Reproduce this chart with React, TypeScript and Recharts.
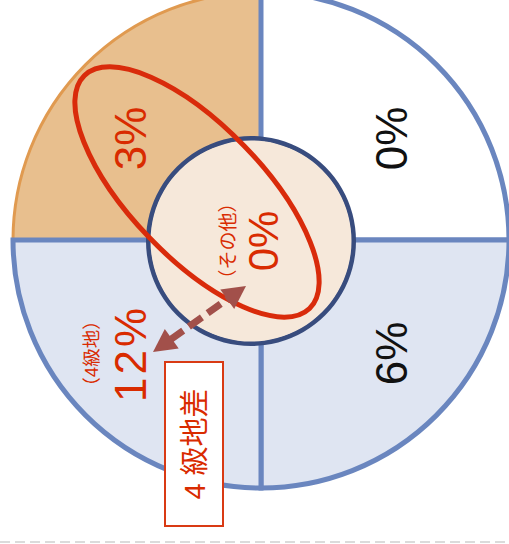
import React from "react"
import { PieChart, Pie, Cell } from "recharts"

// quadrants clockwise from the top-left one; equal weights, the label is the share
const quadrantNames = ["3級地", "2級地", "1級地", "4級地"]
const quadrantWeights = [25, 25, 25, 25]
const quadrantShares = ["3%", "0%", "6%", "12%"]
const quadrantSubs = ["", "", "", "（4級地）"]

const centerNames = ["その他"]
const centerWeights = [100]
const centerShares = ["0%"]
const centerSubs = ["（その他）"]

const calloutText = "4 級地差"

const quadrantData = quadrantNames.map((name, i) => ({
    name, weight: quadrantWeights[i], share: quadrantShares[i], sub: quadrantSubs[i],
}))
const centerData = centerNames.map((name, i) => ({
    name, weight: centerWeights[i], share: centerShares[i], sub: centerSubs[i],
}))

const fills = ["#E8BF8E", "#FFFFFF", "#DFE5F2", "#DFE5F2"]
const strokes = ["#E09A50", "#6A86BF", "#6A86BF", "#6A86BF"]
const strokeWidths = [3, 5, 5, 5]
const textColors = ["#D92B00", "#111111", "#111111", "#D92B00"]

const RED = "#D92B00"
const FONT = "'Liberation Sans', 'Noto Sans CJK JP', sans-serif"
const RADIAN = Math.PI / 180

const QuadrantLabel = (props: any) => {
    const { cx, cy, midAngle, index } = props
    const x = cx + 185 * Math.cos(midAngle * RADIAN)
    const y = cy + 6 - 152 * Math.sin(midAngle * RADIAN)
    const d = quadrantData[index]
    return (
        <g>
            <text x={x} y={y} transform={`rotate(-90 ${x} ${y})`} textAnchor="middle" dominantBaseline="central"
                fontFamily={FONT} fontSize={44} fill={textColors[index]} letterSpacing={d.sub ? 3 : 0}>{d.share}</text>
            {d.sub && (
                <text x={x - 39} y={y} transform={`rotate(-90 ${x - 39} ${y})`} textAnchor="middle" dominantBaseline="central"
                    fontFamily={FONT} fontSize={18.5} fill={RED}>{d.sub}</text>
            )}
        </g>
    )
}

const CenterLabel = (props: any) => {
    const { cx, cy, index } = props
    const d = centerData[index]
    const x = cx + 12
    const y = cy
    return (
        <g>
            <text x={x} y={y} transform={`rotate(-90 ${x} ${y})`} textAnchor="middle" dominantBaseline="central"
                fontFamily={FONT} fontSize={42} fill={RED}>{d.share}</text>
            <text x={x - 35} y={y} transform={`rotate(-90 ${x - 35} ${y})`} textAnchor="middle" dominantBaseline="central"
                fontFamily={FONT} fontSize={19} fill={RED}>{d.sub}</text>
        </g>
    )
}

// double headed dashed arrow between the centre circle and the 4級地 quadrant
const Arrow = () => {
    const a = { x: 246, y: 286 }
    const b = { x: 153, y: 352 }
    const len = Math.hypot(a.x - b.x, a.y - b.y)
    const u = { x: (a.x - b.x) / len, y: (a.y - b.y) / len }
    const n = { x: -u.y, y: u.x }
    const hl = 23, hw = 12
    const head = (tip: { x: number, y: number }, dir: number) => {
        const bx = tip.x - dir * hl * u.x
        const by = tip.y - dir * hl * u.y
        return `${tip.x},${tip.y} ${bx + hw * n.x},${by + hw * n.y} ${bx - hw * n.x},${by - hw * n.y}`
    }
    return (
        <g>
            <line x1={b.x + (hl - 2) * u.x} y1={b.y + (hl - 2) * u.y} x2={a.x - (hl - 2) * u.x} y2={a.y - (hl - 2) * u.y}
                stroke="#A2504A" strokeWidth={7} strokeDasharray="16 7" />
            <polygon points={head(a, 1)} fill="#A2504A" />
            <polygon points={head(b, -1)} fill="#A2504A" />
        </g>
    )
}

export default function App() {
    return (
        <div style={{ position: "absolute", left: 0, top: 0, width: 509, height: 544 }}>
            <PieChart width={509} height={544} margin={{ top: 0, right: 0, bottom: 0, left: 0 }}>
                <Pie data={quadrantData} dataKey="weight" cx={261} cy={240} outerRadius={248}
                    startAngle={180} endAngle={-180} label={QuadrantLabel} labelLine={false} isAnimationActive={false}>
                    {quadrantData.map((d, i) => (
                        <Cell key={d.name} fill={fills[i]} stroke={strokes[i]} strokeWidth={strokeWidths[i]} />
                    ))}
                </Pie>
                {/* ring border of the centre circle */}
                <Pie data={centerData} dataKey="weight" cx={251} cy={241} innerRadius={100} outerRadius={105}
                    startAngle={90} endAngle={-270} isAnimationActive={false}>
                    {centerData.map((d) => (
                        <Cell key={d.name} fill="#384C7E" stroke="none" />
                    ))}
                </Pie>
                <Pie data={centerData} dataKey="weight" cx={251} cy={241} outerRadius={100.5}
                    startAngle={90} endAngle={-270} label={CenterLabel} labelLine={false} isAnimationActive={false}>
                    {centerData.map((d) => (
                        <Cell key={d.name} fill="#F6E8DA" stroke="none" />
                    ))}
                </Pie>
            </PieChart>
            <svg width={509} height={544} style={{ position: "absolute", left: 0, top: 0, pointerEvents: "none" }}>
                <ellipse cx={197} cy={192} rx={162} ry={66} transform="rotate(46 197 192)"
                    fill="none" stroke="#D92B0B" strokeWidth={5} />
                <Arrow />
                <rect x={165} y={362} width={58} height={164} fill="#FFFFFF" stroke="#D93A14" strokeWidth={2} />
                <text x={195} y={444} transform="rotate(-90 195 444)" textAnchor="middle" dominantBaseline="central"
                    fontFamily={FONT} fontSize={29} fill={RED}>{calloutText}</text>
                <line x1={0} y1={542} x2={509} y2={542} stroke="#D0D0D0" strokeWidth={1.5} strokeDasharray="10 5" />
            </svg>
        </div>
    )
}
